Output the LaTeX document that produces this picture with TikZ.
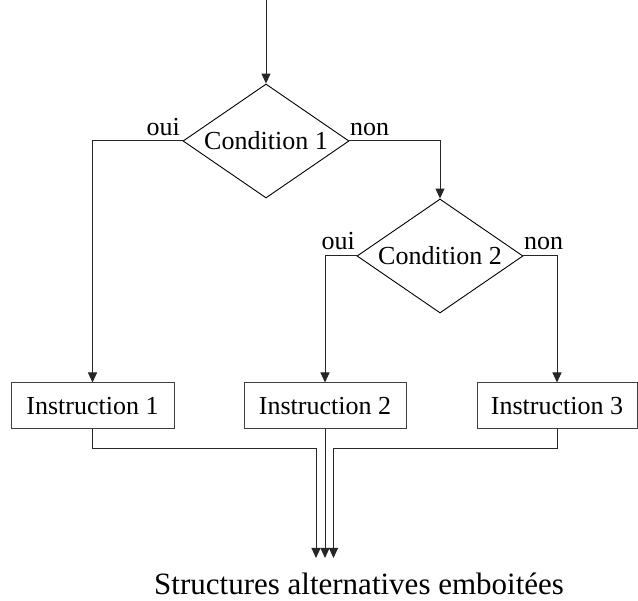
\documentclass[tikz,border=0pt]{standalone}
\usepackage{fontspec}
\setmainfont{Liberation Serif}
\usetikzlibrary{shapes.geometric,arrows.meta}
\begin{document}
\begin{tikzpicture}[x=1pt,y=-1pt,
  line/.style={draw=black!85, line width=1pt},
  arr/.style={line, -{Triangle[width=9pt,length=10pt]}},
  txt/.style={font=\fontsize{26}{31}\selectfont},
  cond/.style={txt, diamond, aspect=1.456, draw=black, line width=0.9pt,
    minimum width=166pt, minimum height=114pt, inner sep=0pt},
  instr/.style={txt, rectangle, draw=black!75, line width=1pt,
    minimum height=46pt, inner sep=0pt},
  lbl/.style={txt, inner sep=0pt}
]
\useasboundingbox (0,0) rectangle (638,601);

% decisions
\coordinate (start) at (266,0);
\node[cond] (c1) at (266,141) {Condition 1};
\node[cond] (c2) at (440,256) {Condition 2};

% actions
\node[instr, minimum width=163pt] (i1) at (92.5,406) {Instruction 1};
\node[instr, minimum width=162pt] (i2) at (325,406) {Instruction 2};
\node[instr, minimum width=160pt] (i3) at (557,406) {Instruction 3};

% branch labels
\node[lbl, anchor=base east] (o1) at (180,136) {oui};
\node[lbl, anchor=base west] (n1) at (350,136) {non};
\node[lbl, anchor=base east] (o2) at (355,250) {oui};
\node[lbl, anchor=base west] (n2) at (524,250) {non};

% flow
\draw[arr] (start) -- (c1.north);
\draw[arr] (c1.west) -| (i1.north);
\draw[arr] (c1.east) -| (c2.north);
\draw[arr] (c2.west) -| (i2.north);
\draw[arr] (c2.east) -| (i3.north);

% merge at the end
\coordinate (e1) at (316,558);
\coordinate (e2) at (325,558);
\coordinate (e3) at (333.5,558);
\draw[arr] (i1.south) -- (i1.south |- 0,449) -| (e1);
\draw[arr] (i2.south) -- (e2);
\draw[arr] (i3.south) -- (i3.south |- 0,449) -| (e3);

% caption
\node[font=\fontsize{31}{36}\selectfont, anchor=base west, inner sep=0pt] (title) at (154,595) {Structures alternatives emboitées};
\end{tikzpicture}
\end{document}
